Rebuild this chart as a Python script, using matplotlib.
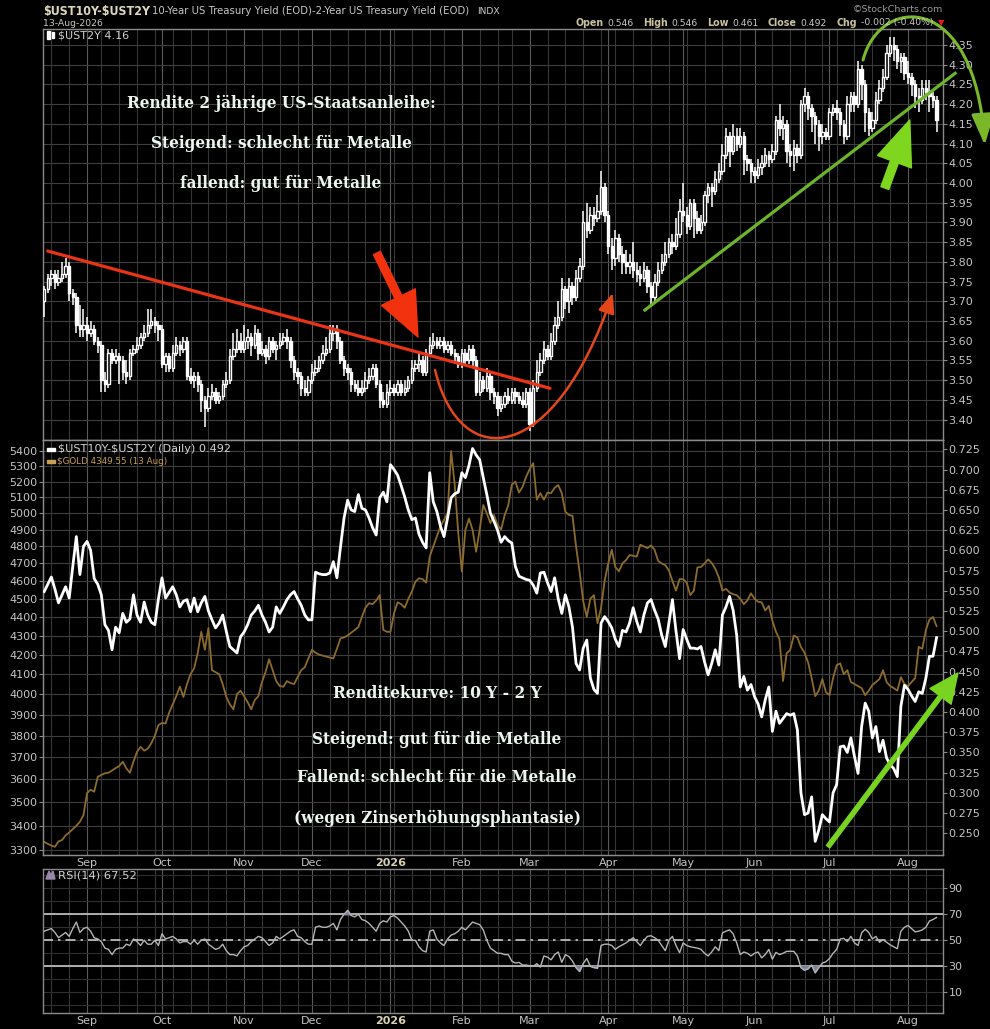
import numpy as np
import pandas as pd
import matplotlib
matplotlib.use("Agg")
import matplotlib.pyplot as plt
from matplotlib import font_manager as fm
from matplotlib.patches import FancyArrowPatch, Rectangle, Polygon
from matplotlib.path import Path
from matplotlib.ticker import FixedLocator, FuncFormatter, NullLocator

# ---------------- data ----------------
start_date = "2025-08-14"
end_date = "2026-08-13"
holidays = ["2025-09-01", "2025-11-27", "2025-12-25", "2026-01-01", "2026-01-19",
            "2026-02-16", "2026-04-03", "2026-05-25", "2026-06-19", "2026-07-03"]

# $UST2Y daily candles (close / high / low); open taken as previous close
first_open_2y = 3.70
close_2y = [
    3.73, 3.76, 3.77, 3.75, 3.76, 3.77, 3.79, 3.72, 3.71, 3.64, 3.63, 3.64,
    3.62, 3.63, 3.60, 3.59, 3.50, 3.49, 3.57, 3.55, 3.56, 3.55, 3.52, 3.51, 3.57, 3.58, 3.59, 3.61, 3.62, 3.64, 3.65, 3.64, 3.63,
    3.54, 3.56, 3.53, 3.57, 3.59, 3.58, 3.60, 3.51, 3.50, 3.51, 3.49, 3.45, 3.43, 3.46, 3.47, 3.45, 3.46, 3.49, 3.50, 3.56, 3.58, 3.60, 3.58,
    3.60, 3.61, 3.59, 3.62, 3.57, 3.58, 3.56, 3.60, 3.58, 3.59, 3.60, 3.61, 3.60, 3.55, 3.52, 3.51, 3.48, 3.47, 3.50,
    3.52, 3.53, 3.55, 3.57, 3.58, 3.62, 3.63, 3.60, 3.55, 3.53, 3.52, 3.49, 3.48, 3.47, 3.48, 3.50, 3.51, 3.53, 3.49, 3.45, 3.44, 3.47,
    3.48, 3.47, 3.49, 3.47, 3.48, 3.50, 3.53, 3.54, 3.55, 3.52, 3.57, 3.59, 3.60, 3.59, 3.60, 3.58, 3.59, 3.57, 3.56, 3.54,
    3.57, 3.55, 3.58, 3.55, 3.47, 3.50, 3.48, 3.51, 3.47, 3.46, 3.43, 3.44, 3.46, 3.45, 3.47, 3.46, 3.45, 3.44, 3.47,
    3.39, 3.48, 3.52, 3.55, 3.58, 3.56, 3.60, 3.64, 3.66, 3.73, 3.70, 3.74, 3.71, 3.76, 3.79, 3.90, 3.88, 3.92, 3.91, 3.93, 3.99, 3.92,
    3.84, 3.81, 3.86, 3.82, 3.80, 3.79, 3.80, 3.78, 3.77, 3.76, 3.78, 3.74, 3.71, 3.75, 3.78, 3.80, 3.82, 3.85, 3.84, 3.87, 3.93,
    3.92, 3.89, 3.95, 3.91, 3.88, 3.90, 3.97, 3.99, 3.98, 4.01, 4.03, 4.07, 4.12, 4.08, 4.12, 4.10, 4.12, 4.06, 4.05, 4.03,
    4.02, 4.04, 4.05, 4.07, 4.06, 4.08, 4.16, 4.14, 4.15, 4.08, 4.07, 4.09, 4.07, 4.20, 4.22, 4.19, 4.17, 4.15, 4.12, 4.13, 4.12,
    4.18, 4.19, 4.18, 4.15, 4.12, 4.20, 4.22, 4.20, 4.29, 4.25, 4.18, 4.14, 4.16, 4.21, 4.24, 4.27, 4.33, 4.35, 4.34, 4.31, 4.32, 4.28,
    4.27, 4.25, 4.22, 4.21, 4.24, 4.23, 4.22, 4.21, 4.16]
high_2y = [
    3.74, 3.77, 3.78, 3.78, 3.78, 3.80, 3.81, 3.80, 3.73, 3.72, 3.69, 3.68,
    3.66, 3.65, 3.64, 3.61, 3.60, 3.52, 3.58, 3.58, 3.58, 3.57, 3.56, 3.55, 3.58, 3.59, 3.61, 3.62, 3.64, 3.68, 3.68, 3.66, 3.65,
    3.64, 3.57, 3.57, 3.59, 3.61, 3.60, 3.61, 3.61, 3.53, 3.52, 3.52, 3.50, 3.46, 3.48, 3.49, 3.48, 3.47, 3.50, 3.52, 3.58, 3.62, 3.63, 3.62,
    3.64, 3.63, 3.62, 3.64, 3.63, 3.60, 3.59, 3.61, 3.61, 3.60, 3.62, 3.62, 3.63, 3.61, 3.56, 3.53, 3.52, 3.50, 3.51,
    3.54, 3.55, 3.56, 3.59, 3.61, 3.64, 3.64, 3.64, 3.61, 3.56, 3.54, 3.53, 3.50, 3.50, 3.50, 3.52, 3.53, 3.54, 3.54, 3.50, 3.47, 3.49,
    3.50, 3.49, 3.50, 3.50, 3.50, 3.51, 3.55, 3.55, 3.57, 3.56, 3.58, 3.61, 3.62, 3.61, 3.61, 3.61, 3.60, 3.60, 3.58, 3.57,
    3.58, 3.58, 3.59, 3.59, 3.56, 3.52, 3.51, 3.53, 3.52, 3.48, 3.47, 3.46, 3.47, 3.48, 3.48, 3.48, 3.47, 3.47, 3.48,
    3.48, 3.50, 3.55, 3.57, 3.60, 3.59, 3.62, 3.66, 3.70, 3.76, 3.74, 3.76, 3.75, 3.78, 3.81, 3.93, 3.95, 3.94, 3.94, 3.97, 4.03, 4.00,
    3.93, 3.86, 3.88, 3.87, 3.84, 3.83, 3.82, 3.85, 3.80, 3.79, 3.80, 3.79, 3.75, 3.77, 3.80, 3.82, 3.85, 3.86, 3.87, 3.91, 3.96,
    4.00, 3.94, 3.96, 3.96, 3.93, 3.92, 3.98, 4.00, 4.00, 4.03, 4.05, 4.10, 4.14, 4.13, 4.15, 4.14, 4.14, 4.13, 4.07, 4.06,
    4.04, 4.06, 4.07, 4.09, 4.08, 4.10, 4.17, 4.20, 4.17, 4.16, 4.10, 4.11, 4.10, 4.21, 4.24, 4.23, 4.20, 4.18, 4.16, 4.15, 4.14,
    4.19, 4.20, 4.21, 4.19, 4.16, 4.22, 4.23, 4.23, 4.31, 4.30, 4.26, 4.19, 4.18, 4.23, 4.26, 4.29, 4.35, 4.37, 4.37, 4.35, 4.33, 4.33,
    4.31, 4.28, 4.26, 4.24, 4.26, 4.26, 4.26, 4.23, 4.22]
low_2y = [
    3.66, 3.72, 3.74, 3.73, 3.74, 3.75, 3.76, 3.70, 3.69, 3.62, 3.61, 3.61,
    3.60, 3.61, 3.59, 3.57, 3.47, 3.47, 3.48, 3.54, 3.54, 3.49, 3.50, 3.49, 3.50, 3.56, 3.57, 3.58, 3.60, 3.61, 3.63, 3.62, 3.60,
    3.53, 3.52, 3.52, 3.52, 3.56, 3.56, 3.57, 3.50, 3.49, 3.48, 3.47, 3.42, 3.38, 3.42, 3.45, 3.44, 3.44, 3.45, 3.48, 3.49, 3.55, 3.57, 3.57,
    3.57, 3.58, 3.56, 3.58, 3.55, 3.56, 3.54, 3.55, 3.57, 3.55, 3.58, 3.59, 3.58, 3.53, 3.50, 3.49, 3.46, 3.46, 3.46,
    3.49, 3.51, 3.52, 3.54, 3.56, 3.57, 3.60, 3.58, 3.54, 3.51, 3.50, 3.47, 3.47, 3.46, 3.46, 3.47, 3.49, 3.50, 3.48, 3.43, 3.43, 3.43,
    3.46, 3.46, 3.46, 3.46, 3.46, 3.47, 3.49, 3.52, 3.52, 3.51, 3.51, 3.56, 3.58, 3.58, 3.58, 3.57, 3.57, 3.56, 3.54, 3.53,
    3.53, 3.54, 3.54, 3.53, 3.46, 3.46, 3.47, 3.47, 3.45, 3.44, 3.41, 3.42, 3.43, 3.44, 3.44, 3.44, 3.44, 3.43, 3.43,
    3.37, 3.38, 3.47, 3.51, 3.54, 3.55, 3.55, 3.59, 3.63, 3.65, 3.68, 3.67, 3.69, 3.70, 3.75, 3.78, 3.86, 3.87, 3.89, 3.90, 3.92, 3.90,
    3.82, 3.78, 3.79, 3.80, 3.77, 3.77, 3.77, 3.76, 3.75, 3.74, 3.75, 3.72, 3.69, 3.70, 3.74, 3.77, 3.79, 3.81, 3.82, 3.83, 3.86,
    3.90, 3.87, 3.88, 3.86, 3.87, 3.87, 3.89, 3.95, 3.94, 3.97, 4.00, 4.02, 4.06, 4.04, 4.07, 4.08, 4.09, 4.02, 4.03, 4.00,
    4.00, 4.01, 4.02, 4.04, 4.04, 4.05, 4.07, 4.12, 4.11, 4.05, 4.04, 4.03, 4.05, 4.06, 4.18, 4.16, 4.13, 4.10, 4.08, 4.10, 4.11,
    4.11, 4.17, 4.16, 4.12, 4.10, 4.11, 4.18, 4.18, 4.19, 4.21, 4.13, 4.12, 4.13, 4.15, 4.20, 4.23, 4.26, 4.32, 4.31, 4.29, 4.28, 4.26,
    4.25, 4.22, 4.19, 4.18, 4.20, 4.21, 4.18, 4.19, 4.13]

# $UST10Y-$UST2Y spread (right scale) and $GOLD (left, log scale)
spread = [
    0.549, 0.558, 0.567, 0.552, 0.535, 0.545, 0.555, 0.541, 0.580, 0.617, 0.570, 0.605,
    0.611, 0.600, 0.565, 0.558, 0.545, 0.508, 0.501, 0.477, 0.505, 0.498, 0.522, 0.511, 0.515, 0.545, 0.520, 0.511, 0.536, 0.520, 0.511, 0.508, 0.540,
    0.566, 0.541, 0.548, 0.555, 0.545, 0.530, 0.537, 0.539, 0.524, 0.541, 0.524, 0.535, 0.543, 0.525, 0.514, 0.504, 0.510, 0.520, 0.500, 0.481, 0.477, 0.473, 0.493,
    0.499, 0.508, 0.520, 0.525, 0.532, 0.520, 0.511, 0.499, 0.505, 0.530, 0.522, 0.530, 0.539, 0.545, 0.549, 0.540, 0.532, 0.520, 0.514,
    0.514, 0.573, 0.571, 0.570, 0.570, 0.572, 0.586, 0.566, 0.604, 0.640, 0.662, 0.650, 0.648, 0.669, 0.652, 0.650, 0.640, 0.628, 0.619, 0.665, 0.672, 0.660,
    0.706, 0.700, 0.693, 0.680, 0.666, 0.650, 0.638, 0.640, 0.620, 0.610, 0.603, 0.696, 0.660, 0.648, 0.630, 0.617, 0.640, 0.665, 0.670, 0.672,
    0.696, 0.690, 0.705, 0.726, 0.718, 0.712, 0.690, 0.669, 0.646, 0.636, 0.625, 0.610, 0.617, 0.612, 0.609, 0.580, 0.568, 0.566, 0.564,
    0.563, 0.557, 0.547, 0.572, 0.573, 0.560, 0.549, 0.566, 0.540, 0.522, 0.545, 0.530, 0.505, 0.460, 0.452, 0.479, 0.489, 0.442, 0.428, 0.423, 0.510, 0.518,
    0.512, 0.504, 0.490, 0.481, 0.501, 0.499, 0.510, 0.529, 0.512, 0.499, 0.520, 0.535, 0.539, 0.526, 0.515, 0.495, 0.481, 0.510, 0.539, 0.500, 0.466,
    0.502, 0.490, 0.479, 0.479, 0.478, 0.481, 0.462, 0.446, 0.460, 0.477, 0.458, 0.520, 0.530, 0.543, 0.526, 0.495, 0.431, 0.444, 0.427, 0.434,
    0.419, 0.410, 0.394, 0.415, 0.431, 0.376, 0.401, 0.386, 0.392, 0.398, 0.396, 0.398, 0.378, 0.300, 0.273, 0.275, 0.295, 0.240, 0.254, 0.273, 0.268,
    0.264, 0.300, 0.310, 0.357, 0.358, 0.350, 0.368, 0.345, 0.324, 0.382, 0.411, 0.401, 0.368, 0.382, 0.351, 0.365, 0.343, 0.335, 0.330, 0.320, 0.407, 0.433,
    0.428, 0.420, 0.413, 0.425, 0.423, 0.442, 0.469, 0.469, 0.492]
gold = [
    3333, 3325, 3318, 3313, 3335, 3341, 3360, 3372, 3386, 3400, 3417, 3445,
    3540, 3555, 3546, 3612, 3620, 3628, 3630, 3640, 3651, 3660, 3680, 3650, 3630, 3680, 3725, 3748, 3730, 3740, 3764, 3800, 3850,
    3860, 3858, 3910, 3950, 3990, 4037, 3986, 4050, 4100, 4130, 4207, 4320, 4225, 4340, 4120, 4110, 4100, 4050, 3987, 3950, 3926, 4000, 4017,
    3990, 3960, 3926, 3971, 3990, 4060, 4110, 4176, 4120, 4065, 4040, 4037, 4065, 4055, 4050, 4085, 4120, 4135, 4180,
    4225, 4210, 4200, 4195, 4190, 4185, 4180, 4230, 4285, 4290, 4300, 4315, 4330, 4345, 4400, 4450, 4475, 4470, 4490, 4520, 4330, 4320,
    4320, 4420, 4480, 4470, 4450, 4500, 4540, 4596, 4615, 4610, 4590, 4740, 4800, 4860, 4920, 4960, 5000, 5400, 5180, 4880,
    4653, 4900, 4968, 4900, 4769, 4900, 5052, 5000, 4940, 4990, 4930, 4900, 4990, 5050, 5180, 5200, 5130, 5165, 5230,
    5280, 5320, 5085, 5126, 5085, 5130, 5126, 5160, 5178, 5126, 5010, 4990, 4985, 4800, 4650, 4487, 4400, 4500, 4520, 4366, 4450, 4600,
    4700, 4780, 4680, 4655, 4700, 4720, 4749, 4745, 4740, 4810, 4800, 4790, 4806, 4780, 4715, 4700, 4690, 4660, 4600, 4545, 4610,
    4610, 4590, 4520, 4545, 4677, 4680, 4700, 4724, 4703, 4670, 4620, 4545, 4555, 4535, 4525, 4520, 4500, 4470, 4490, 4530,
    4500, 4483, 4480, 4435, 4460, 4380, 4320, 4280, 4065, 4207, 4225, 4300, 4290, 4240, 4210, 4160, 4080, 3990, 4017, 4075, 4010,
    3995, 4080, 4145, 4155, 4100, 4120, 4060, 4050, 4040, 4030, 3995, 4017, 4045, 4060, 4075, 4120, 4060, 4040, 4030, 4017, 4085, 4050,
    4040, 4060, 4080, 4240, 4230, 4330, 4385, 4400, 4350]
# RSI(14) of the spread
rsi = [
    57, 58, 59, 56, 52, 54, 56, 53, 59, 64, 56, 59,
    60, 57, 52, 51, 49, 44, 43, 39, 43, 44, 44, 47, 46, 51, 49, 46, 50, 47, 47, 50, 46,
    55, 51, 52, 53, 51, 48, 49, 49, 47, 50, 47, 50, 51, 47, 45, 43, 44, 47, 42, 39, 39, 38, 42,
    45, 46, 49, 51, 53, 52, 49, 46, 48, 53, 51, 53, 55, 57, 58, 53, 52, 49, 47,
    47, 60, 61, 60, 60, 61, 63, 58, 66, 70, 73, 69, 68, 70, 66, 65, 63, 60, 57, 63, 65, 64,
    68, 69, 67, 64, 61, 57, 50, 50, 45, 42, 41, 57, 58, 51, 48, 46, 51, 54, 55, 57,
    60, 58, 61, 64, 63, 62, 58, 50, 44, 42, 40, 40, 39, 39, 34, 32.5, 33, 31, 31,
    30.5, 30, 32, 29.5, 38, 37, 35, 39, 41, 33, 39, 37.5, 34, 29, 26, 32, 36, 30, 29, 28.5, 46, 47,
    47, 46, 43, 45, 46.5, 48, 50, 52, 49, 46, 50, 53, 53.5, 52, 50, 46, 42, 50, 53, 46, 40.5,
    48, 46, 45, 44.5, 44, 43, 40, 38, 41, 45, 42, 55.7, 57, 58, 55, 48, 39, 41, 40, 38,
    40, 41, 36.5, 39, 43, 35.5, 40.7, 39, 40, 41.5, 41.5, 41.5, 38, 29, 27, 28, 31, 25, 29, 32.5, 33.5,
    36, 40, 43, 51, 51.5, 49, 53, 48, 46, 55.7, 58.5, 56, 51, 53, 48.5, 50.5, 48.5, 46.5, 45, 43.5, 57, 60,
    61.4, 59, 56.5, 57, 58, 60, 64.8, 66, 67.5]

ticks_2y = [3.40, 3.45, 3.50, 3.55, 3.60, 3.65, 3.70, 3.75, 3.80, 3.85, 3.90, 3.95,
            4.00, 4.05, 4.10, 4.15, 4.20, 4.25, 4.30, 4.35]
ticks_spread = [0.250, 0.275, 0.300, 0.325, 0.350, 0.375, 0.400, 0.425, 0.450, 0.475,
                0.500, 0.525, 0.550, 0.575, 0.600, 0.625, 0.650, 0.675, 0.700, 0.725]
ticks_gold = [3300, 3400, 3500, 3600, 3700, 3800, 3900, 4000, 4100, 4200, 4300,
              4400, 4500, 4600, 4700, 4800, 4900, 5000, 5100, 5200, 5300, 5400]
ticks_rsi = [10, 30, 50, 70, 90]

title_sym = "$UST10Y-$UST2Y"
title_desc = "10-Year US Treasury Yield (EOD)-2-Year US Treasury Yield (EOD)"
date_str = "13-Aug-2026"
ohlc_parts = [("Open", "0.546"), ("High", "0.546"), ("Low", "0.461"), ("Close", "0.492"), ("Chg", "-0.002 (-0.40%)")]
legend_2y = "$UST2Y 4.16"
legend_spread = "$UST10Y-$UST2Y (Daily) 0.492"
legend_gold = "$GOLD 4349.55 (13 Aug)"
legend_rsi = "RSI(14) 67.52"
note_top = ["Rendite 2 jährige US-Staatsanleihe:", "Steigend: schlecht für Metalle", "fallend: gut für Metalle"]
note_mid = ["Renditekurve: 10 Y - 2 Y", "Steigend: gut für die Metalle",
            "Fallend: schlecht für die Metalle", "(wegen Zinserhöhungsphantasie)"]

# ---------------- setup ----------------
n = min(len(close_2y), len(high_2y), len(low_2y), len(spread), len(gold), len(rsi))
days = pd.bdate_range(start_date, end_date, freq="C", holidays=holidays)
days = days[-n:]
x = np.arange(n)
cl = np.array(close_2y[:n]); hi = np.array(high_2y[:n]); lo = np.array(low_2y[:n])
op = np.concatenate([[first_open_2y], cl[:-1]])
sp = np.array(spread[:n]); gd = np.array(gold[:n], dtype=float); rs = np.array(rsi[:n], dtype=float)

month_idx = [i for i in range(1, n) if days[i].month != days[i - 1].month]
month_lab = ["2026" if days[i].month == 1 else days[i].strftime("%b") for i in month_idx]
week_idx = [i for i in range(1, n) if days[i].weekday() < days[i - 1].weekday()]

W, H = 990, 1029
fig = plt.figure(figsize=(W / 100, H / 100), dpi=100, facecolor="black")
R = fig.canvas.get_renderer()

def fx(v):
    return v / W

def fy(v):
    return 1 - v / H

avail = {}
for f in fm.fontManager.ttflist:
    avail.setdefault(f.name, set()).add(str(f.stretch))

if "Liberation Sans Narrow" in avail:
    NARROW = dict(family="Liberation Sans Narrow")
elif "DejaVu Sans" in avail and any("condensed" in s for s in avail["DejaVu Sans"]):
    NARROW = dict(family="DejaVu Sans", fontstretch="condensed")
else:
    NARROW = dict(family="Liberation Sans")

if "Liberation Sans Narrow" in avail:
    ANN = dict(family="Liberation Sans Narrow", fontweight="bold")
elif "DejaVu Serif" in avail and any("condensed" in s for s in avail["DejaVu Serif"]):
    ANN = dict(family="DejaVu Serif", fontstretch="condensed", fontweight="bold")
else:
    ANN = dict(family="Liberation Serif", fontweight="bold")

def fit_text(xp, yp, s, width, size=9, ha="left", va="center", **kw):
    t = fig.text(fx(xp), fy(yp), s, ha=ha, va=va, fontsize=size, parse_math=False, **kw)
    w = t.get_window_extent(renderer=R).width
    if w > 0 and width:
        t.set_fontsize(size * width / w)
    return t

XMIN, XMAX = -0.34, 251.8
GRID_MINOR = "#363636"
GRID_MAJOR = "#5a5a5a"
HGRID = "#3e3e3e"
SPINE = "#8a8a8a"
LABEL = "#c4c4c4"

def style(ax, labels):
    ax.set_facecolor("black")
    for s in ax.spines.values():
        s.set_color(SPINE)
        s.set_linewidth(1.0)
    ax.set_xlim(XMIN, XMAX)
    ax.xaxis.set_major_locator(FixedLocator(month_idx))
    ax.xaxis.set_minor_locator(FixedLocator(week_idx))
    ax.grid(axis="x", which="major", color=GRID_MAJOR, lw=0.8)
    ax.grid(axis="x", which="minor", color=GRID_MINOR, lw=0.8)
    ax.tick_params(axis="x", which="both", length=0, pad=2, labelsize=8, labelcolor=LABEL)
    if labels:
        ax.set_xticklabels(month_lab)
        for lab in ax.get_xticklabels():
            if lab.get_text() == "2026":
                lab.set_fontweight("bold")
                lab.set_color("#d6d2b0")
    else:
        ax.tick_params(axis="x", labelbottom=False)

# ---------------- top panel: $UST2Y candles ----------------
ax1 = fig.add_axes([fx(43), fy(440), 900 / W, 411 / H])
style(ax1, False)
ax1.set_ylim(3.3482, 4.3906)
ax1.yaxis.tick_right()
ax1.yaxis.set_major_locator(FixedLocator(ticks_2y))
ax1.yaxis.set_major_formatter(FuncFormatter(lambda v, p: f"{v:.2f}"))
ax1.tick_params(axis="y", direction="out", length=3, width=0.8, color=SPINE, pad=1,
                labelsize=8, labelcolor=LABEL)
ax1.grid(axis="y", color=HGRID, lw=0.8)

up = cl >= op
bot = np.minimum(op, cl)
hgt = np.maximum(np.abs(cl - op), 0.003)
ax1.vlines(x, lo, hi, color="white", lw=1.1, zorder=3)
ax1.bar(x[up], hgt[up], bottom=bot[up], width=0.66, facecolor="black", edgecolor="white", lw=1.0, zorder=4)
ax1.bar(x[~up], hgt[~up], bottom=bot[~up], width=0.66, facecolor="white", edgecolor="white", lw=1.0, zorder=4)

# annotations (hand-drawn lines / arrows)
ax1.plot([0.98, 141.7], [3.8275, 3.4793], color="#ea3418", lw=2.3, zorder=6, solid_capstyle="round")
ax1.plot([168.3, 255.2], [3.6779, 4.2782], color="#6cb42a", lw=2.3, zorder=6, clip_on=False)
ax1.annotate("", xy=(104.7, 3.6094), xytext=(93.2, 3.8225), annotation_clip=False, zorder=7,
             arrowprops=dict(arrowstyle="simple,head_length=3.2,head_width=2.7,tail_width=0.55",
                             mutation_scale=10, color="#f2320f", shrinkA=0, shrinkB=0))
ax1.annotate("", xy=(242.5, 4.1598), xytext=(235.5, 3.9873), annotation_clip=False, zorder=7,
             arrowprops=dict(arrowstyle="simple,head_length=3.2,head_width=2.6,tail_width=0.6",
                             mutation_scale=10, color="#7ed61e", shrinkA=0, shrinkB=0))
red_curve = Path([(109.5, 3.5258), (116.5, 3.2600), (143.1, 3.2850), (159.3, 3.7210)],
                 [Path.MOVETO, Path.CURVE4, Path.CURVE4, Path.CURVE4])
ax1.add_patch(FancyArrowPatch(path=red_curve, arrowstyle="-|>,head_length=1.2,head_width=0.5",
                              mutation_scale=10, lw=1.8, color="#e4461a", clip_on=False, zorder=7))
green_arc = Path([(229.4, 4.3120), (234.1, 4.4768), (260.7, 4.4895), (263.5, 4.0964)],
                 [Path.MOVETO, Path.CURVE4, Path.CURVE4, Path.CURVE4])
ax1.add_patch(FancyArrowPatch(path=green_arc, arrowstyle="-|>,head_length=1.9,head_width=0.7",
                              mutation_scale=10, lw=2.2, color="#7ab82a", clip_on=False, zorder=7))

# ---------------- middle panel: spread & gold ----------------
ax2 = fig.add_axes([fx(43), fy(855), 900 / W, 415 / H])
style(ax2, True)
ax2.set_yscale("log")
ax2.set_ylim(3279.6, 5473.9)
ax2.yaxis.set_major_locator(FixedLocator(ticks_gold))
ax2.yaxis.set_minor_locator(NullLocator())
ax2.yaxis.set_major_formatter(FuncFormatter(lambda v, p: f"{v:.0f}"))
ax2.tick_params(axis="y", which="both", direction="out", length=3, width=0.8, color=SPINE, pad=1,
                labelsize=8, labelcolor=LABEL)
ax2.grid(axis="y", which="major", color=HGRID, lw=0.8)
ax2.plot(x, gd, color="#8c6c2c", lw=1.3, zorder=3)

ax2r = ax2.twinx()
ax2r.set_xlim(XMIN, XMAX)
ax2r.set_ylim(0.2231, 0.7365)
ax2r.yaxis.set_major_locator(FixedLocator(ticks_spread))
ax2r.yaxis.set_major_formatter(FuncFormatter(lambda v, p: f"{v:.3f}"))
ax2r.tick_params(axis="y", direction="out", length=3, width=0.8, color=SPINE, pad=1,
                 labelsize=8, labelcolor=LABEL)
for s in ax2r.spines.values():
    s.set_color(SPINE)
ax2r.plot(x, sp, color="white", lw=2.0, zorder=4)
ax2r.annotate("", xy=(256.0, 0.4483), xytext=(219.6, 0.2334), annotation_clip=False, zorder=7,
              arrowprops=dict(arrowstyle="simple,head_length=2.1,head_width=1.9,tail_width=0.3",
                              mutation_scale=10, color="#78d420", shrinkA=0, shrinkB=0))

# ---------------- RSI panel ----------------
ax3 = fig.add_axes([fx(43), fy(1013), 900 / W, 144 / H])
style(ax3, True)
ax3.set_ylim(-5.9, 104.8)
ax3.yaxis.tick_right()
ax3.yaxis.set_major_locator(FixedLocator(ticks_rsi))
ax3.yaxis.set_minor_locator(FixedLocator([0, 20, 40, 60, 80, 100]))
ax3.tick_params(axis="y", which="major", direction="out", length=3, width=0.8, color=SPINE, pad=1,
                labelsize=8, labelcolor=LABEL)
ax3.tick_params(axis="y", which="minor", length=0)
ax3.grid(axis="y", which="both", color="#2e2e2e", lw=0.8)
for lvl, ls in ((70, "-"), (30, "-"), (50, (0, (6, 3, 1.5, 3)))):
    ax3.axhline(lvl, color="#c8c8c8", lw=1.2, ls=ls, zorder=2)
ax3.fill_between(x, rs, 70, where=rs > 70, interpolate=True, color="#8a7a9c", zorder=3)
ax3.fill_between(x, rs, 30, where=rs < 30, interpolate=True, color="#7a8296", zorder=3)
ax3.plot(x, rs, color="#b4b4b4", lw=1.0, zorder=4)

# ---------------- header texts ----------------
fit_text(43, 11, title_sym, 107, size=11, color="#dcd8bc", fontweight="bold", **NARROW)
fit_text(152, 11, title_desc, 321, size=9, color="#c8c8c8")
fit_text(477, 12, "INDX", 23, size=7, color="#c8c8c8")
fit_text(43, 23, date_str, 60, size=8, color="#c8c8c0")
fit_text(943, 10, "\u00a9StockCharts.com", 90, size=8, ha="right", color="#9a9a9a")

def ohlc_row(size):
    items, xpos = [], 0.0
    for lab, val in ohlc_parts:
        t1 = fig.text(0, fy(23), lab, ha="left", va="center", fontsize=size * 1.15,
                      fontweight="bold", color="#c8c0a0", parse_math=False, **NARROW)
        w1 = t1.get_window_extent(renderer=R).width
        items.append((t1, xpos)); xpos += w1 + 4
        t2 = fig.text(0, fy(23), val, ha="left", va="center", fontsize=size, color="#c8c8c8",
                      parse_math=False)
        w2 = t2.get_window_extent(renderer=R).width
        items.append((t2, xpos)); xpos += w2 + 9
    return items, xpos - 9

items, total = ohlc_row(8)
for t, _ in items:
    t.remove()
items, total = ohlc_row(8 * 351 / total)
x0 = 933 - total
for t, off in items:
    t.set_x(fx(x0 + off))
fig.text(fx(941), fy(23), "\u25bc", ha="center", va="center", fontsize=6, color="#e02020")

# ---------------- legends ----------------
fig.add_artist(Rectangle((fx(47), fy(39)), 2.5 / W, 8 / H, transform=fig.transFigure, color="white"))
fig.add_artist(Rectangle((fx(51.5), fy(38)), 2.5 / W, 6 / H, transform=fig.transFigure, color="white"))
fit_text(58, 35, legend_2y, 71, size=8, color="#d0d0d0")
fig.add_artist(Rectangle((fx(47), fy(450.5)), 8 / W, 2.5 / H, transform=fig.transFigure, color="white"))
fit_text(58, 449, legend_spread, 174, size=8, color="#d4d4d4")
fig.add_artist(Rectangle((fx(47), fy(462.5)), 8 / W, 2.5 / H, transform=fig.transFigure, color="#c8a050"))
fit_text(57, 461, legend_gold, 111, size=8, color="#c8a050")
fig.add_artist(Polygon([(fx(46), fy(879)), (fx(49), fy(871)), (fx(51), fy(875)), (fx(53), fy(871)),
                        (fx(55), fy(879))], closed=True, transform=fig.transFigure, color="#9a88a8"))
fit_text(58, 875, legend_rsi, 79, size=8, color="#d0d0d0")

# ---------------- big annotation texts ----------------
def block(lines, centers_y, widths, cx):
    sizes = []
    ts = []
    for s, yy, ww in zip(lines, centers_y, widths):
        t = fit_text(cx, yy, s, ww * 1.04, size=14, ha="center", color="#ecf6ee", zorder=10, **ANN)
        ts.append(t); sizes.append(t.get_fontsize())
    med = float(np.median(sizes))
    for t in ts:
        t.set_fontsize(med)

block(note_top, [103, 143, 183], [300, 253, 191], 281)
block(note_mid, [693, 739, 778, 818], [200, 239, 271, 281], 437)

fig.savefig("out.png", dpi=100, facecolor="black")
